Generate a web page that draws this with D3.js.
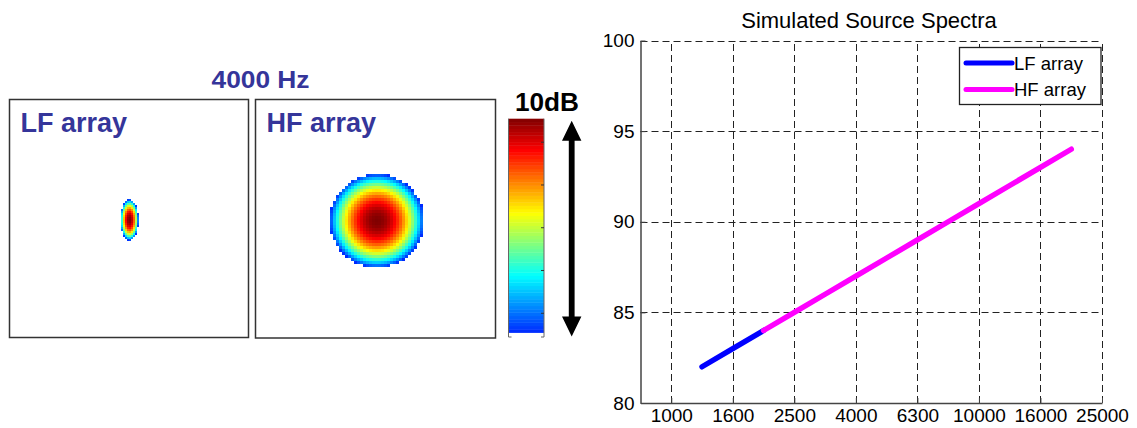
<!DOCTYPE html>
<html>
<head>
<meta charset="utf-8">
<script src="https://cdnjs.cloudflare.com/ajax/libs/d3/7.8.5/d3.min.js"></script>
<style>
  body { margin: 0; background: #fff; }
  text { font-family: "Liberation Sans", Arial, sans-serif; }
</style>
</head>
<body>
<div id="chart"></div>
<script>
// spectra data (1/3 octave band centre frequencies, dB)
var bands = [800, 1000, 1250, 1600, 2000, 2500, 3150, 4000, 5000, 6300, 8000, 10000, 12500, 16000, 20000, 25000];
var freqTicks = [1000, 1600, 2500, 4000, 6300, 10000, 16000, 25000];
var levelTicks = [80, 85, 90, 95, 100];
var lfFreq = [1250, 1600, 2000];
var lfLevel = [82, 83, 84];
var hfFreq = [2000, 2500, 3150, 4000, 5000, 6300, 8000, 10000, 12500, 16000, 20000];
var hfLevel = [84, 85, 86, 87, 88, 89, 90, 91, 92, 93, 94];
var seriesNames = ["LF array", "HF array"];

// beam maps at 4000 Hz: -10 dB half widths in normalised panel units
var mapTitle = "4000 Hz";
var panelNames = ["LF array", "HF array"];
var beamHalfX = [0.076, 0.393];
var beamHalfY = [0.172, 0.393];
var beamCentreX = [0.004, 0.012];
var beamCentreY = [0.012, 0.017];
var dbRange = [-10, 0];
var cbTicks = [-1.1, -3.1, -5.1, -7.1, -9.1];
var cbLabel = "10dB";

var W = 1137, H = 428;
var svg = d3.select("#chart").append("svg")
  .attr("width", W)
  .attr("height", H);
svg.append("rect").attr("width", W).attr("height", H).attr("fill", "#fff");

// jet-like colour map, trimmed at the blue end
var jet = d3.scaleLinear()
  .domain([-10, -7.35, -4.41, -1.47, 0])
  .range(["#0028ff", "#00ffff", "#ffff00", "#ff0000", "#800000"])
  .clamp(true);

// ---------- left: beam maps ----------
var boxes = [
  {x0: 9.5, x1: 248.5, y0: 99.5, y1: 337.5, cell: 2},
  {x0: 255.5, x1: 495.5, y0: 99.5, y1: 338, cell: 3}
];
var blue = "#35359a";

svg.append("text")
  .attr("x", 260.5).attr("y", 87.5)
  .attr("text-anchor", "middle")
  .attr("font-size", "24px").attr("font-weight", "bold")
  .attr("fill", blue)
  .attr("textLength", 98).attr("lengthAdjust", "spacingAndGlyphs")
  .text(mapTitle);

boxes.forEach(function(b, i) {
  var g = svg.append("g");
  var u = d3.scaleLinear().domain([-1, 1]).range([b.x0, b.x1]);
  var v = d3.scaleLinear().domain([-1, 1]).range([b.y0, b.y1]);
  var cells = [];
  var c = b.cell;
  for (var px = Math.floor(b.x0); px < b.x1; px += c) {
    for (var py = Math.floor(b.y0); py < b.y1; py += c) {
      var dx = (u.invert(px + c / 2) - beamCentreX[i]) / beamHalfX[i];
      var dy = (v.invert(py + c / 2) - beamCentreY[i]) / beamHalfY[i];
      var lev = -10 * (dx * dx + dy * dy);
      if (lev >= dbRange[0]) cells.push({x: px, y: py, lev: lev});
    }
  }
  g.selectAll("rect.cell")
    .data(cells)
    .enter()
    .append("rect")
      .attr("class", "cell")
      .attr("x", function(d) { return d.x; })
      .attr("y", function(d) { return d.y; })
      .attr("width", c)
      .attr("height", c)
      .attr("shape-rendering", "crispEdges")
      .attr("fill", function(d) { return jet(d.lev); });

  g.append("rect")
    .attr("x", b.x0).attr("y", b.y0)
    .attr("width", b.x1 - b.x0).attr("height", b.y1 - b.y0)
    .attr("fill", "none")
    .attr("stroke", "#333")
    .attr("stroke-width", 1.5);

  g.append("text")
    .attr("x", b.x0 + 11).attr("y", 131.5)
    .attr("font-size", "27px").attr("font-weight", "bold")
    .attr("fill", blue)
    .text(panelNames[i]);
});

// colour bar
var cbX0 = 508.5, cbX1 = 544, cbTop = 118.7, cbBot = 332.5;
var cbY = d3.scaleLinear().domain(dbRange).range([cbBot, cbTop]);
var steps = d3.range(64).map(function(k) { return dbRange[0] + (k + 0.5) * 10 / 64; });
svg.append("g").selectAll("rect")
  .data(steps)
  .enter()
  .append("rect")
    .attr("x", cbX0)
    .attr("y", function(d) { return cbY(d + 5 / 64); })
    .attr("width", cbX1 - cbX0)
    .attr("height", (cbBot - cbTop) / 64 + 0.4)
    .attr("fill", function(d) { return jet(d); });

var cbFrame = svg.append("g").attr("stroke", "#666").attr("stroke-width", 1).attr("fill", "none");
cbFrame.append("path").attr("d", "M" + cbX0 + "," + cbTop + "V337M" + cbX1 + "," + cbTop + "V337");
cbFrame.append("path").attr("d", "M" + cbX0 + ",337h3M" + cbX1 + ",337h-3");
cbFrame.selectAll("line")
  .data(cbTicks)
  .enter()
  .append("line")
    .attr("x1", cbX1 - 3).attr("x2", cbX1)
    .attr("y1", function(d) { return cbY(d); })
    .attr("y2", function(d) { return cbY(d); })
    .attr("stroke", "#333");

svg.append("text")
  .attr("x", 547).attr("y", 111)
  .attr("text-anchor", "middle")
  .attr("font-size", "25px").attr("font-weight", "bold")
  .attr("fill", "#000")
  .attr("textLength", 64).attr("lengthAdjust", "spacingAndGlyphs")
  .text(cbLabel);

// double arrow spanning the colour bar range
var ax = 571.7, aTop = 120.7, aBot = 336.5, hw = 9.7, sw = 2.9, hh = 20;
svg.append("path")
  .attr("d", "M" + ax + "," + aTop +
    "L" + (ax + hw) + "," + (aTop + hh) + "L" + (ax + sw) + "," + (aTop + hh) +
    "L" + (ax + sw) + "," + (aBot - hh) + "L" + (ax + hw) + "," + (aBot - hh) +
    "L" + ax + "," + aBot +
    "L" + (ax - hw) + "," + (aBot - hh) + "L" + (ax - sw) + "," + (aBot - hh) +
    "L" + (ax - sw) + "," + (aTop + hh) + "L" + (ax - hw) + "," + (aTop + hh) + "Z")
  .attr("fill", "#000");

// ---------- right: source spectra ----------
var x = d3.scalePoint().domain(bands).range([640.5, 1102]);
var y = d3.scaleLinear().domain([80, 100]).range([403, 40.5]);

var grid = svg.append("g")
  .attr("stroke", "#222")
  .attr("stroke-width", 1)
  .attr("stroke-dasharray", "7,4");
grid.selectAll("line.v")
  .data(freqTicks)
  .enter()
  .append("line")
    .attr("class", "v")
    .attr("x1", function(d) { return Math.round(x(d)) + 0.5; })
    .attr("x2", function(d) { return Math.round(x(d)) + 0.5; })
    .attr("y1", y(80))
    .attr("y2", y(100));
grid.selectAll("line.h")
  .data(levelTicks.slice(1))
  .enter()
  .append("line")
    .attr("class", "h")
    .attr("x1", x.range()[0])
    .attr("x2", x.range()[1])
    .attr("y1", function(d) { return Math.round(y(d)) + 0.5; })
    .attr("y2", function(d) { return Math.round(y(d)) + 0.5; });

var xAxis = svg.append("g")
  .attr("transform", "translate(0," + y(80) + ")")
  .call(d3.axisBottom(x).tickValues(freqTicks).tickFormat(d3.format("d"))
    .tickSize(-5).tickSizeOuter(0).tickPadding(6));
var yAxis = svg.append("g")
  .attr("transform", "translate(" + x.range()[0] + ",0)")
  .call(d3.axisLeft(y).tickValues(levelTicks)
    .tickSize(-5).tickSizeOuter(0).tickPadding(6));
[xAxis, yAxis].forEach(function(a) {
  a.select(".domain").attr("stroke", "#444").attr("stroke-width", 1.5);
  a.selectAll(".tick line").attr("stroke", "#444");
  a.selectAll(".tick text")
    .attr("font-size", "19px")
    .attr("font-family", "Liberation Sans, Arial, sans-serif")
    .attr("fill", "#000");
});

svg.append("text")
  .attr("x", 869).attr("y", 28)
  .attr("text-anchor", "middle")
  .attr("font-size", "22px")
  .attr("fill", "#000")
  .text("Simulated Source Spectra");

var line = d3.line()
  .x(function(d) { return x(d[0]); })
  .y(function(d) { return y(d[1]); });
var series = [
  {name: seriesNames[0], color: "#0000ff", pts: d3.zip(lfFreq, lfLevel)},
  {name: seriesNames[1], color: "#ff00ff", pts: d3.zip(hfFreq, hfLevel)}
];
svg.selectAll("path.series")
  .data(series)
  .enter()
  .append("path")
    .attr("class", "series")
    .attr("d", function(d) { return line(d.pts); })
    .attr("fill", "none")
    .attr("stroke", function(d) { return d.color; })
    .attr("stroke-width", 5.5)
    .attr("stroke-linecap", "round")
    .attr("stroke-linejoin", "round");

// legend
var lg = svg.append("g");
lg.append("rect")
  .attr("x", 959.5).attr("y", 47.5)
  .attr("width", 141.5).attr("height", 57)
  .attr("fill", "#fff")
  .attr("stroke", "#222")
  .attr("stroke-width", 1.3);
series.forEach(function(s, i) {
  var ly = 63 + i * 26.5;
  lg.append("line")
    .attr("x1", 966).attr("x2", 1012)
    .attr("y1", ly).attr("y2", ly)
    .attr("stroke", s.color)
    .attr("stroke-width", 5)
    .attr("stroke-linecap", "round");
  lg.append("text")
    .attr("x", 1014).attr("y", ly + 6.5)
    .attr("font-size", "18.5px")
    .attr("fill", "#000")
    .text(s.name);
});
</script>
</body>
</html>
